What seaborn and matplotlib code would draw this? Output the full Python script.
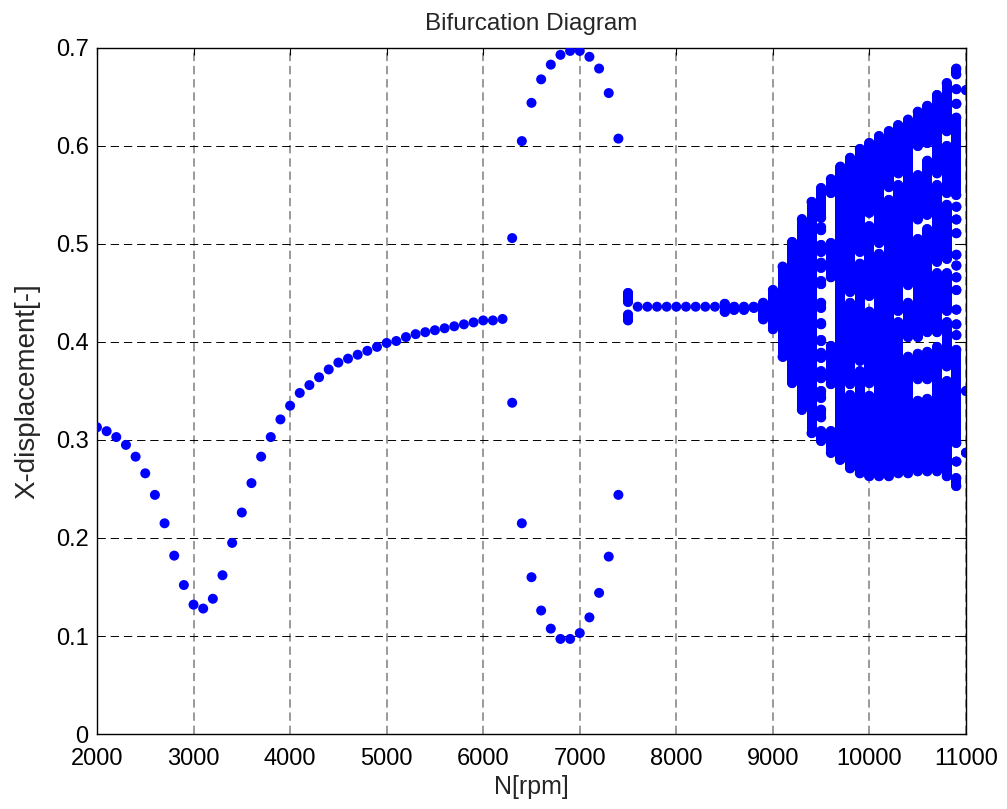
import matplotlib
matplotlib.use("Agg")
import matplotlib.pyplot as plt
import numpy as np
import pandas as pd
import seaborn as sns

# ---- period-1 branch (single response amplitude per speed) ----
rpm_p1 = [2000, 2100, 2200, 2300, 2400, 2500, 2600, 2700, 2800, 2900,
          3000, 3100, 3200, 3300, 3400, 3500, 3600, 3700, 3800, 3900,
          4000, 4100, 4200, 4300, 4400, 4500, 4600, 4700, 4800, 4900,
          5000, 5100, 5200, 5300, 5400, 5500, 5600, 5700, 5800, 5900,
          6000, 6100, 6200]
disp_p1 = [0.313, 0.309, 0.303, 0.295, 0.283, 0.266, 0.244, 0.215, 0.182, 0.152,
           0.132, 0.128, 0.138, 0.162, 0.195, 0.226, 0.256, 0.283, 0.303, 0.321,
           0.335, 0.348, 0.356, 0.364, 0.372, 0.379, 0.383, 0.387, 0.391, 0.395,
           0.399, 0.401, 0.405, 0.408, 0.410, 0.412, 0.414, 0.416, 0.418, 0.420,
           0.422, 0.422, 0.4235]

# ---- period-2 branch ----
rpm_p2 = [6300, 6400, 6500, 6600, 6700, 6800, 6900, 7000, 7100, 7200, 7300, 7400]
disp_p2_upper = [0.506, 0.605, 0.644, 0.668, 0.683, 0.693, 0.697, 0.697, 0.691, 0.679, 0.654, 0.6075]
disp_p2_lower = [0.338, 0.215, 0.160, 0.126, 0.1075, 0.097, 0.097, 0.103, 0.119, 0.144, 0.181, 0.244]

# ---- steady branch after the jump ----
rpm_p3 = [7600, 7700, 7800, 7900, 8000, 8100, 8200, 8300, 8400]
disp_p3 = [0.436, 0.436, 0.436, 0.436, 0.436, 0.436, 0.436, 0.436, 0.436]

# ---- multi-valued columns: runs of sampled amplitudes (low end, high end) ----
band_rpm = [7500, 7500,
            8500, 8600, 8700, 8800, 8900, 9000, 9100, 9200,
            9300,
            9400,
            9500, 9500, 9500, 9500, 9500, 9500, 9500, 9500, 9500, 9500, 9500, 9500, 9500,
            9600, 9600, 9600, 9600,
            9700,
            9800, 9800, 9800,
            9900, 9900, 9900,
            10000, 10000, 10000, 10000,
            10100, 10100,
            10200, 10200,
            10300, 10300, 10300,
            10400, 10400, 10400,
            10500, 10500, 10500, 10500, 10500,
            10600, 10600, 10600, 10600, 10600,
            10700, 10700, 10700, 10700,
            10800, 10800, 10800, 10800, 10800, 10800,
            10900, 10900, 10900, 10900, 10900, 10900, 10900, 10900, 10900,
            10900, 10900, 10900, 10900, 10900, 10900, 10900, 10900,
            11000, 11000, 11000]
band_lo = [0.441, 0.422,
           0.431, 0.433, 0.433, 0.435, 0.423, 0.413, 0.385, 0.358,
           0.331,
           0.307,
           0.299, 0.323, 0.343, 0.363, 0.384, 0.401, 0.418, 0.435, 0.459, 0.476, 0.492, 0.514, 0.527,
           0.287, 0.357, 0.466, 0.552,
           0.280,
           0.271, 0.357, 0.451,
           0.266, 0.381, 0.492,
           0.263, 0.358, 0.447, 0.532,
           0.263, 0.501,
           0.263, 0.558,
           0.266, 0.432, 0.572,
           0.266, 0.405, 0.458,
           0.268, 0.362, 0.405, 0.525, 0.600,
           0.268, 0.362, 0.410, 0.530, 0.603,
           0.268, 0.410, 0.482, 0.572,
           0.263, 0.375, 0.432, 0.485, 0.552, 0.615,
           0.253, 0.278, 0.297, 0.407, 0.418, 0.433, 0.453, 0.466, 0.478,
           0.489, 0.511, 0.525, 0.538, 0.550, 0.643, 0.658, 0.673,
           0.287, 0.350, 0.657]
band_hi = [0.450, 0.428,
           0.439, 0.436, 0.436, 0.436, 0.440, 0.453, 0.477, 0.502,
           0.525,
           0.543,
           0.309, 0.331, 0.350, 0.370, 0.389, 0.402, 0.419, 0.440, 0.462, 0.481, 0.499, 0.517, 0.557,
           0.309, 0.396, 0.501, 0.566,
           0.579,
           0.346, 0.440, 0.588,
           0.370, 0.480, 0.597,
           0.345, 0.431, 0.518, 0.603,
           0.490, 0.610,
           0.545, 0.615,
           0.420, 0.560, 0.621,
           0.385, 0.440, 0.627,
           0.340, 0.388, 0.505, 0.570, 0.635,
           0.342, 0.390, 0.515, 0.585, 0.641,
           0.395, 0.470, 0.560, 0.652,
           0.360, 0.420, 0.470, 0.540, 0.600, 0.664,
           0.261, 0.278, 0.392, 0.407, 0.418, 0.433, 0.453, 0.466, 0.478,
           0.489, 0.511, 0.525, 0.538, 0.629, 0.643, 0.658, 0.679,
           0.287, 0.350, 0.657]

x_ticks = [2000, 3000, 4000, 5000, 6000, 7000, 8000, 9000, 10000, 11000]
y_ticks = [0, 0.1, 0.2, 0.3, 0.4, 0.5, 0.6, 0.7]
y_tick_labels = ["0", "0.1", "0.2", "0.3", "0.4", "0.5", "0.6", "0.7"]

# ---- tidy frames ----
points = pd.DataFrame({
    "rpm": rpm_p1 + rpm_p2 + rpm_p2 + rpm_p3 + band_rpm + band_rpm,
    "disp": disp_p1 + disp_p2_upper + disp_p2_lower + disp_p3 + band_lo + band_hi,
})
n_band = len(band_rpm)
runs = pd.DataFrame({
    "rpm": band_rpm + band_rpm,
    "disp": band_lo + band_hi,
    "run": list(range(n_band)) + list(range(n_band)),
})

sns.set_style("white")
plt.rcParams["font.family"] = ["Liberation Sans", "DejaVu Sans"]
plt.rcParams["lines.scale_dashes"] = False

BLUE = "#0000ff"
DOT_PT = 7.2  # marker diameter in points

fig = plt.figure(figsize=(10.07, 8.09), dpi=100)
ax = fig.add_axes([0.0963, 0.0927, 0.8630, 0.8480])

# dense runs: overlapping dots drawn as round-capped strokes
sns.lineplot(data=runs, x="rpm", y="disp", units="run", estimator=None,
             sort=False, color=BLUE, linewidth=DOT_PT, solid_capstyle="round",
             legend=False, ax=ax, zorder=3)
sns.scatterplot(data=points, x="rpm", y="disp", s=DOT_PT ** 2, color=BLUE,
                edgecolor="none", linewidth=0, legend=False, ax=ax, zorder=4)

ax.set_xlim(2000, 11000)
ax.set_ylim(0, 0.7)
ax.set_xticks(x_ticks)
ax.set_xticklabels([str(t) for t in x_ticks])
ax.set_yticks(y_ticks)
ax.set_yticklabels(y_tick_labels)

ax.xaxis.grid(True, color="#7f7f7f", linestyle=(0, (6, 3.5)), linewidth=1.1)
ax.yaxis.grid(True, color="black", linestyle=(0, (6, 3.5)), linewidth=0.7)
ax.set_axisbelow(True)

for side in ax.spines.values():
    side.set_visible(True)
    side.set_color("black")
    side.set_linewidth(1.0)

ax.tick_params(axis="both", which="major", direction="in", length=5, width=0.8,
               top=True, right=True, labelsize=17, colors="black")
ax.tick_params(axis="x", pad=10)
ax.tick_params(axis="y", pad=6)

ax.set_title("Bifurcation Diagram", fontsize=17.5, pad=13)
ax.set_xlabel("N[rpm]", fontsize=18, labelpad=4)
ax.set_ylabel("X-displacement[-]", fontsize=20, labelpad=11)

fig.savefig("out.png", dpi=100, facecolor="white")
